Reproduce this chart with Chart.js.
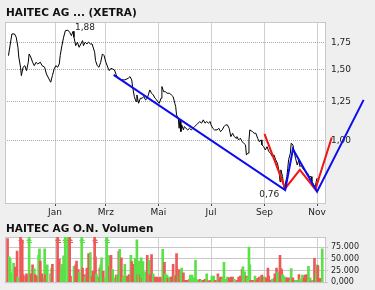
<!DOCTYPE html>
<html>
<head>
<meta charset="utf-8">
<script src="https://cdn.jsdelivr.net/npm/chart.js@4.4.0/dist/chart.umd.min.js"></script>
<style>
  body { margin: 0; background: #efefef; }
  #wrap { position: relative; width: 375px; height: 290px; overflow: hidden; }
  .ttl { position: absolute; left: 6px; font: bold 10.5px "DejaVu Sans", sans-serif; color: #111; white-space: nowrap; }
  canvas { position: absolute; left: 0; }
</style>
</head>
<body>
<div id="wrap">
  <canvas id="priceChart" width="375" height="220" style="top:0"></canvas>
  <canvas id="volChart" width="375" height="70" style="top:220px"></canvas>
  <div class="ttl" style="top:6px">HAITEC AG ... (XETRA)</div>
  <div class="ttl" style="top:222px">HAITEC AG O.N. Volumen</div>
</div>
<script>
// days counted from 1 Jan
const monthDays = [0, 59, 120, 181, 243, 304];
const monthLabels = ['Jan', 'Mrz', 'Mai', 'Jul', 'Sep', 'Nov'];
const priceTicks = [1.00, 1.25, 1.50, 1.75];
const volTicks = [0, 25000, 50000, 75000];

const priceDays = [
  -54, -50, -47, -45, -43, -42, -40, -39, -37, -35,
  -33, -31, -30, -28, -26, -24, -22, -20, -17, -15,
  -12, -10, -7, -5, -3, -1, 1, 3, 5, 6,
  8, 10, 12, 15, 17, 19, 21, 22, 24, 26,
  28, 30, 32, 33, 35, 37, 39, 41, 43, 46,
  47, 49, 51, 53, 55, 57, 59, 62, 63, 65,
  69, 71, 73, 77, 81, 85, 87, 89, 90, 92,
  94, 95, 97, 99, 101, 103, 105, 107, 110, 112,
  114, 116, 118, 119, 121, 123, 124, 126, 128, 130,
  133, 135, 137, 139, 140, 141, 143, 144, 145, 146,
  147, 149, 150, 152, 154, 156, 158, 160, 162, 164,
  166, 168, 170, 172, 174, 176, 178, 180, 181, 183,
  185, 188, 190, 192, 194, 196, 198, 200, 202, 204,
  206, 208, 210, 211, 213, 215, 217, 219, 221, 222,
  224, 225, 226, 229, 231, 233, 235, 237, 239, 240,
  242, 244, 246, 248, 250, 252, 254, 256, 258, 260,
  261, 262, 264, 265, 266, 269, 270, 271, 273, 274,
  276, 277, 279, 281, 283, 284, 286, 287, 289, 291,
  293, 295, 297, 298, 300, 302, 303, 304
];
const priceValues = [
  1.625, 1.840, 1.840, 1.806, 1.705, 1.613, 1.521, 1.450, 1.521, 1.535,
  1.492, 1.565, 1.641, 1.611, 1.565, 1.535, 1.565, 1.550, 1.565, 1.535,
  1.521, 1.464, 1.423, 1.396, 1.450, 1.506, 1.535, 1.521, 1.550, 1.625,
  1.721, 1.806, 1.875, 1.880, 1.858, 1.822, 1.868, 1.806, 1.721, 1.755,
  1.705, 1.738, 1.771, 1.721, 1.755, 1.738, 1.755, 1.738, 1.738, 1.657,
  1.580, 1.535, 1.521, 1.565, 1.641, 1.625, 1.565, 1.506, 1.492, 1.512,
  1.498, 1.456, 1.428, 1.415, 1.415, 1.428, 1.442, 1.415, 1.362, 1.286,
  1.250, 1.298, 1.238, 1.274, 1.274, 1.286, 1.262, 1.274, 1.336, 1.311,
  1.298, 1.274, 1.262, 1.250, 1.238, 1.274, 1.362, 1.323, 1.323, 1.311,
  1.311, 1.298, 1.286, 1.238, 1.214, 1.158, 1.137, 1.073, 1.126, 1.053,
  1.094, 1.063, 1.083, 1.073, 1.063, 1.073, 1.063, 1.073, 1.083, 1.094,
  1.105, 1.115, 1.105, 1.126, 1.105, 1.115, 1.105, 1.115, 1.094, 1.073,
  1.063, 1.063, 1.073, 1.053, 1.063, 1.083, 1.094, 1.094, 1.073, 1.023,
  1.043, 1.023, 1.014, 1.023, 1.004, 1.014, 0.994, 0.985, 0.976, 0.922,
  0.931, 1.004, 1.063, 1.053, 1.043, 1.043, 1.014, 0.994, 1.004, 0.976,
  0.966, 0.948, 0.966, 0.939, 0.931, 0.913, 0.922, 0.896, 0.879, 0.838,
  0.791, 0.846, 0.814, 0.776, 0.760, 0.814, 0.854, 0.896, 0.931, 0.985,
  0.976, 0.948, 0.904, 0.870, 0.896, 0.862, 0.870, 0.854, 0.846, 0.838,
  0.830, 0.814, 0.814, 0.791, 0.776, 0.769, 0.791, 0.807
];

const blueDays = [68, 267, 276, 304, 358];
const blueValues = [1.456, 0.754, 0.952, 0.747, 1.262];
const redDays = [243, 267, 284, 302, 321];
const redValues = [1.039, 0.761, 0.846, 0.757, 1.018];

// volume, 130000 = above the panel (drawn with an arrow)
const volDays = [
  -55, -53, -52, -51, -48, -46, -45, -44, -43, -40,
  -38, -37, -34, -33, -32, -30, -28, -27, -26, -24,
  -23, -21, -19, -18, -17, -15, -14, -12, -11, -9,
  -5, -4, -3, 3, 5, 7, 8, 10, 12, 15,
  17, 18, 22, 24, 25, 27, 28, 31, 32, 34,
  35, 37, 39, 40, 41, 43, 44, 46, 47, 48,
  50, 52, 53, 54, 56, 58, 60, 61, 63, 64,
  65, 67, 68, 71, 72, 74, 75, 77, 78, 79,
  81, 82, 84, 86, 87, 88, 89, 91, 92, 93,
  95, 96, 97, 99, 100, 101, 102, 105, 107, 109,
  110, 112, 114, 116, 118, 121, 122, 123, 125, 127,
  128, 130, 131, 133, 135, 136, 137, 139, 140, 141,
  143, 144, 146, 147, 149, 151, 153, 156, 157, 159,
  161, 163, 164, 166, 168, 170, 172, 174, 176, 178,
  180, 182, 184, 186, 189, 190, 191, 193, 194, 196,
  198, 200, 202, 204, 206, 208, 211, 213, 215, 217,
  218, 220, 222, 223, 224, 225, 226, 227, 230, 232,
  234, 235, 237, 239, 240, 242, 243, 245, 247, 248,
  249, 251, 252, 254, 255, 257, 258, 259, 261, 262,
  263, 264, 265, 267, 269, 271, 273, 274, 276, 277,
  279, 281, 283, 284, 285, 287, 289, 290, 292, 294,
  296, 297, 299, 301, 303, 304, 305, 307, 310
];
const volValues = [
  93700, 54400, 49600, 20000, 40700, 32400, 22000, 66800, 11000, 130000,
  90000, 16500, 13000, 18000, 13000, 130000, 17900, 9600, 37200, 29000,
  16500, 13000, 59000, 71700, 45500, 17900, 9600, 71700, 16500, 37200,
  17900, 30300, 38600, 130000, 49600, 23400, 38600, 56500, 130000, 130000,
  130000, 13000, 33800, 37200, 45500, 26900, 20000, 130000, 30300, 16500,
  11000, 30300, 61300, 52400, 63400, 13000, 23400, 130000, 54400, 17900,
  11000, 30300, 37200, 52400, 23400, 9600, 130000, 57900, 33800, 56500,
  57900, 27000, 9600, 15200, 15200, 66100, 70300, 52400, 13000, 11000,
  38600, 11000, 13000, 16500, 9600, 57900, 44100, 29000, 38600, 51000,
  91000, 16500, 45500, 16500, 52400, 9600, 44100, 22000, 57900, 47500,
  16500, 59300, 17900, 11000, 11000, 9600, 11000, 9600, 70300, 42700,
  17900, 15200, 8300, 11000, 11000, 11000, 38600, 15200, 13000, 61300,
  13000, 26900, 22000, 30300, 20000, 4100, 4100, 6200, 15200, 15200,
  9600, 47500, 6200, 4100, 6200, 4100, 4100, 6200, 17900, 2800,
  4100, 13000, 13000, 4100, 17900, 11000, 9600, 11000, 6200, 42700,
  6200, 11000, 9600, 11000, 11000, 6200, 4100, 11000, 13000, 26900,
  33100, 22000, 13000, 9600, 9600, 75100, 37200, 4100, 4100, 13000,
  4100, 8300, 11000, 13000, 15200, 11000, 11000, 9600, 30300, 13000,
  4100, 4100, 6200, 8300, 17900, 30300, 20000, 22000, 57900, 29000,
  26900, 16500, 13000, 11000, 9600, 9600, 4100, 29000, 9600, 4100,
  4100, 4100, 16500, 6200, 4100, 15200, 9600, 15200, 16500, 33800,
  9600, 2800, 4100, 51000, 17900, 37200, 35800, 8300, 71700
];
const volUp = [
  0, 1, 1, 1, 1, 0, 0, 0, 1, 0,
  0, 0, 0, 0, 0, 1, 0, 0, 0, 1,
  0, 0, 1, 1, 0, 0, 0, 1, 0, 1,
  0, 1, 0, 0, 0, 1, 1, 1, 1, 1,
  0, 0, 1, 0, 0, 0, 1, 1, 0, 0,
  1, 0, 0, 0, 1, 0, 0, 0, 0, 1,
  1, 0, 1, 1, 0, 1, 1, 1, 0, 1,
  0, 1, 1, 0, 1, 0, 1, 0, 0, 1,
  1, 1, 0, 0, 0, 1, 0, 0, 0, 1,
  1, 0, 1, 0, 1, 0, 1, 1, 0, 1,
  0, 0, 1, 0, 0, 0, 0, 0, 1, 0,
  1, 1, 0, 1, 0, 0, 0, 1, 0, 0,
  1, 0, 1, 1, 0, 0, 0, 0, 1, 1,
  1, 1, 1, 1, 0, 1, 0, 0, 1, 0,
  0, 1, 1, 0, 0, 1, 0, 0, 1, 1,
  1, 1, 0, 0, 0, 1, 0, 0, 0, 0,
  1, 1, 0, 1, 1, 1, 1, 0, 0, 1,
  0, 0, 0, 1, 0, 0, 1, 0, 0, 0,
  0, 0, 1, 1, 0, 0, 1, 1, 0, 0,
  0, 1, 1, 1, 0, 0, 1, 1, 0, 0,
  1, 1, 0, 1, 1, 1, 0, 0, 0, 1,
  1, 0, 1, 0, 1, 1, 0, 0, 1
];

const xMin = -58, xMax = 313.2;
const RED = '#ee5858', GREEN = '#5ce048';
const FONT = '"DejaVu Sans", sans-serif';

const comma = v => v.toFixed(2).replace('.', ',');
const pts = (xs, ys) => xs.map((d, i) => ({ x: d, y: ys[i] }));

// white plot area + grey frame
const framePlugin = {
  id: 'frame',
  beforeDraw(chart) {
    const { ctx, chartArea: a } = chart;
    ctx.save();
    ctx.fillStyle = '#fff';
    ctx.fillRect(a.left, a.top, a.right - a.left, a.bottom - a.top);
    ctx.restore();
  },
  beforeDatasetsDraw(chart) {
    const { ctx, chartArea: a } = chart;
    ctx.save();
    ctx.strokeStyle = '#c8c8c8';
    ctx.lineWidth = 1;
    ctx.strokeRect(a.left + 0.5, a.top + 0.5, a.right - a.left, a.bottom - a.top);
    ctx.restore();
  }
};

const extremesPlugin = {
  id: 'extremes',
  afterDatasetsDraw(chart) {
    const { ctx, scales: { x, y } } = chart;
    const hi = priceValues.indexOf(Math.max(...priceValues));
    const lo = priceValues.indexOf(Math.min(...priceValues));
    ctx.save();
    ctx.font = '9px ' + FONT;
    ctx.fillStyle = '#222';
    ctx.textAlign = 'left';
    ctx.textBaseline = 'alphabetic';
    ctx.fillText(comma(priceValues[hi]), x.getPixelForValue(priceDays[hi]) + 7, y.getPixelForValue(priceValues[hi]));
    ctx.textAlign = 'right';
    ctx.textBaseline = 'top';
    ctx.fillText(comma(priceValues[lo]), x.getPixelForValue(priceDays[lo]) - 5, y.getPixelForValue(priceValues[lo]) + 2);
    ctx.restore();
  }
};

const arrowPlugin = {
  id: 'arrows',
  afterDatasetsDraw(chart) {
    const { ctx, chartArea: a, scales: { x, y } } = chart;
    ctx.save();
    volValues.forEach((v, i) => {
      if (v <= y.max) return;
      const px = Math.round(x.getPixelForValue(volDays[i]));
      ctx.fillStyle = volUp[i] ? GREEN : RED;
      ctx.beginPath();
      ctx.moveTo(px, a.top + 1);
      ctx.lineTo(px - 3, a.top + 4);
      ctx.lineTo(px + 3, a.top + 4);
      ctx.closePath();
      ctx.fill();
      ctx.fillRect(px - 2, a.top + 5, 5, 1);
    });
    ctx.restore();
  }
};

const monthAxis = (showLabels) => ({
  type: 'linear',
  min: xMin,
  max: xMax,
  offset: false,
  afterBuildTicks: s => { s.ticks = monthDays.map(v => ({ value: v })); },
  afterFit: s => { s.height = showLabels ? 17 : 0; },
  grid: { color: '#cfcfcf', offset: false, drawTicks: showLabels, tickLength: 3, tickColor: '#444' },
  border: { display: false },
  ticks: {
    display: showLabels,
    autoSkip: false,
    maxRotation: 0,
    padding: 1,
    color: '#222',
    font: { family: FONT, size: 9 },
    callback: (v, i) => monthLabels[i]
  }
});

new Chart(document.getElementById('priceChart'), {
  type: 'line',
  data: {
    datasets: [
      { data: pts(priceDays, priceValues), borderColor: '#000', borderWidth: 1, pointRadius: 0, order: 2 },
      { data: pts(blueDays, blueValues), borderColor: '#0c0cf0', borderWidth: 2, pointRadius: 0, clip: false, order: 0 },
      { data: pts(redDays, redValues), borderColor: '#f01414', borderWidth: 2, pointRadius: 0, clip: false, order: 1 }
    ]
  },
  options: {
    responsive: false,
    animation: false,
    layout: { padding: { left: 5, top: 22, right: 0, bottom: 0 } },
    plugins: { legend: { display: false }, tooltip: { enabled: false } },
    scales: {
      x: monthAxis(true),
      y: {
        type: 'logarithmic',
        position: 'right',
        min: 0.70,
        max: 1.97,
        bounds: 'data',
        afterBuildTicks: s => { s.ticks = priceTicks.map(v => ({ value: v })); },
        afterFit: s => { s.width = 50; },
        grid: { color: '#a8a8a8', drawTicks: false },
        border: { display: false, dash: [1, 1] },
        ticks: { padding: 6, color: '#222', font: { family: FONT, size: 9 }, callback: v => comma(v) }
      }
    }
  },
  plugins: [framePlugin, extremesPlugin]
});

new Chart(document.getElementById('volChart'), {
  type: 'bar',
  data: {
    datasets: [{
      data: pts(volDays, volValues),
      backgroundColor: volUp.map(u => u ? GREEN : RED),
      barThickness: 2
    }]
  },
  options: {
    responsive: false,
    animation: false,
    layout: { padding: { left: 5, top: 17, right: 0, bottom: 6 } },
    plugins: { legend: { display: false }, tooltip: { enabled: false } },
    scales: {
      x: monthAxis(false),
      y: {
        position: 'right',
        min: 0,
        max: 97000,
        afterBuildTicks: s => { s.ticks = volTicks.map(v => ({ value: v })); },
        afterFit: s => { s.width = 50; },
        grid: { color: '#c8c8c8', tickLength: 3, tickColor: '#c8c8c8' },
        border: { display: false },
        ticks: {
          padding: 3,
          color: '#222',
          font: { family: FONT, size: 8 },
          callback: v => v === 0 ? '0,000' : (v / 1000) + '.000'
        }
      }
    }
  },
  plugins: [framePlugin, arrowPlugin]
});
</script>
</body>
</html>
